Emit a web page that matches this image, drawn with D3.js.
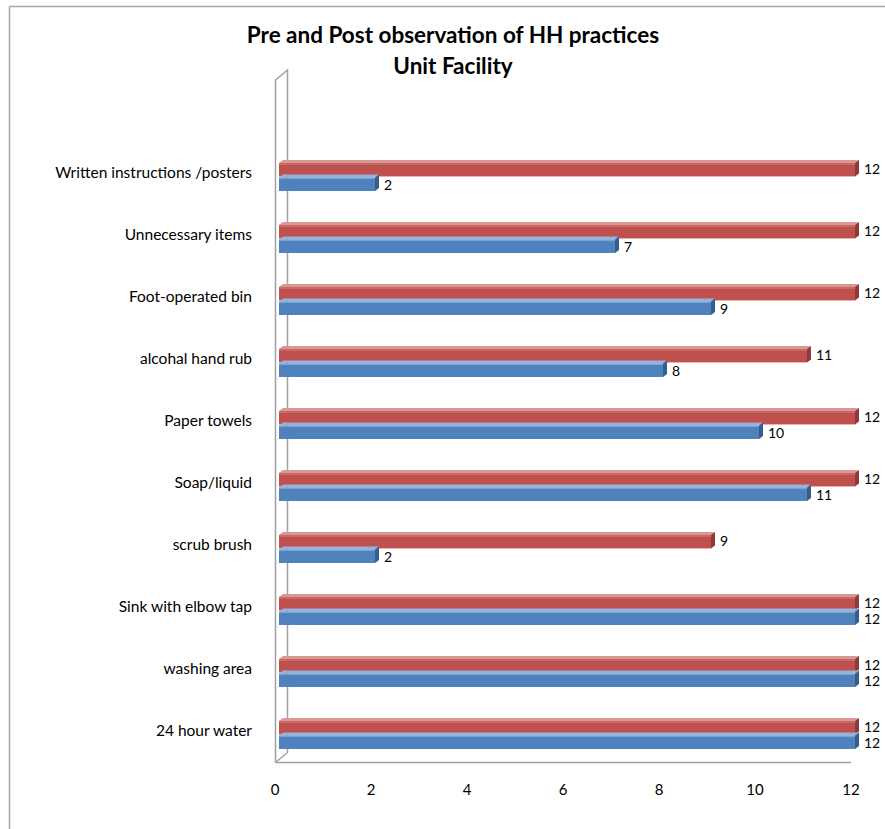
<!DOCTYPE html>
<html>
<head>
<meta charset="utf-8">
<script src="https://cdn.jsdelivr.net/npm/d3@7"></script>
<style>
  body { margin: 0; background: #fff; }
  svg { display: block; font-family: Lato, "Open Sans", sans-serif; }
</style>
</head>
<body>
<svg id="chart" width="885" height="829"></svg>
<script>
// ---- data ----
const categories = [
  "Written instructions /posters",
  "Unnecessary items",
  "Foot-operated bin",
  "alcohal hand rub",
  "Paper towels",
  "Soap/liquid",
  "scrub brush",
  "Sink with elbow tap",
  "washing area",
  "24 hour  water"
];
const seriesNames = ["Post", "Pre"];
const postValues = [12, 12, 12, 11, 12, 12, 9, 12, 12, 12];
const preValues  = [2, 7, 9, 8, 10, 11, 2, 12, 12, 12];
const tickValues = [0, 2, 4, 6, 8, 10, 12];
const titleLines = ["Pre and Post observation of HH practices", "Unit Facility"];

const colors = {
  Post: { front: "#c0504d", top: "#d99795", side: "#8e3a38" },
  Pre:  { front: "#4f81bd", top: "#93b3dc", side: "#365e8d" }
};

const svg = d3.select("#chart");

// outer border (top and left visible)
svg.append("line").attr("x1", 9.5).attr("y1", 6.5).attr("x2", 885).attr("y2", 6.5)
  .attr("stroke", "#a6a6a6").attr("stroke-width", 1.5);
svg.append("line").attr("x1", 9.5).attr("y1", 6.5).attr("x2", 9.5).attr("y2", 829)
  .attr("stroke", "#a6a6a6").attr("stroke-width", 1.5);

// title
svg.append("g").selectAll("text").data(titleLines).join("text")
  .attr("x", 453).attr("y", (d, i) => 43 + i * 31)
  .attr("text-anchor", "middle")
  .attr("font-size", 22.5).attr("font-weight", "bold").attr("fill", "#000")
  .text(d => d);

// scales
const depthX = 12, depthY = -10;
const xFront = d3.scaleLinear().domain([0, 12]).range([275, 851]);
const xBar = d3.scaleLinear().domain([0, 12]).range([279, 855]);
const y = d3.scaleBand().domain(categories).range([146, 766]);
const ySub = d3.scaleBand().domain(seriesNames).range([-14, 14]).paddingInner(0.08);

// walls
const wallColor = "#a0a0a0";
const floorY = 762.5;
const wallTop = 80;
svg.append("path")
  .attr("d", `M275.5,${floorY} L275.5,${wallTop} L${275.5 + depthX},${wallTop + depthY} L${275.5 + depthX},${floorY + depthY} L275.5,${floorY}`)
  .attr("fill", "none").attr("stroke", wallColor).attr("stroke-width", 1.5);
svg.append("line").attr("x1", 275.5).attr("y1", floorY).attr("x2", 851).attr("y2", floorY)
  .attr("stroke", wallColor).attr("stroke-width", 1.5);

// axis tick labels
svg.append("g").selectAll("text").data(tickValues).join("text")
  .attr("x", d => xFront(d)).attr("y", 795)
  .attr("text-anchor", "middle").attr("font-size", 15).attr("fill", "#000")
  .text(d => d);

// category labels
svg.append("g").selectAll("text").data(categories).join("text")
  .attr("x", 252).attr("y", d => y(d) + y.bandwidth() / 2 + 1)
  .attr("text-anchor", "end").attr("font-size", 15.5).attr("fill", "#000")
  .text(d => d);

// bars
const rows = [];
categories.forEach((c, i) => {
  rows.push({ cat: c, series: "Post", value: postValues[i] });
  rows.push({ cat: c, series: "Pre", value: preValues[i] });
});

const dx = 4, dy = -3;
const barG = svg.append("g");
rows.forEach(r => {
  const x0 = xBar(0), x1 = xBar(r.value);
  const yT = y(r.cat) + y.bandwidth() / 2 + ySub(r.series);
  const h = ySub.bandwidth();
  const c = colors[r.series];
  const g = barG.append("g");
  // top face
  g.append("path")
    .attr("d", `M${x0},${yT} L${x0 + dx},${yT + dy} L${x1 + dx},${yT + dy} L${x1},${yT} Z`)
    .attr("fill", c.top);
  // side face
  g.append("path")
    .attr("d", `M${x1},${yT} L${x1 + dx},${yT + dy} L${x1 + dx},${yT + h + dy} L${x1},${yT + h} Z`)
    .attr("fill", c.side);
  // front face
  g.append("rect").attr("x", x0).attr("y", yT).attr("width", x1 - x0).attr("height", h)
    .attr("fill", c.front);
  g.append("line").attr("x1", x0).attr("x2", x1).attr("y1", yT + 1).attr("y2", yT + 1)
    .attr("stroke", c.top).attr("stroke-width", 1).attr("opacity", 0.7);
  // value label
  const shift = r.series === "Post" ? -1 : 1;
  g.append("text").attr("x", x1 + dx + 5).attr("y", yT + h / 2 + 5 + shift)
    .attr("font-size", 14).attr("fill", "#000")
    .text(r.value);
});
</script>
</body>
</html>
